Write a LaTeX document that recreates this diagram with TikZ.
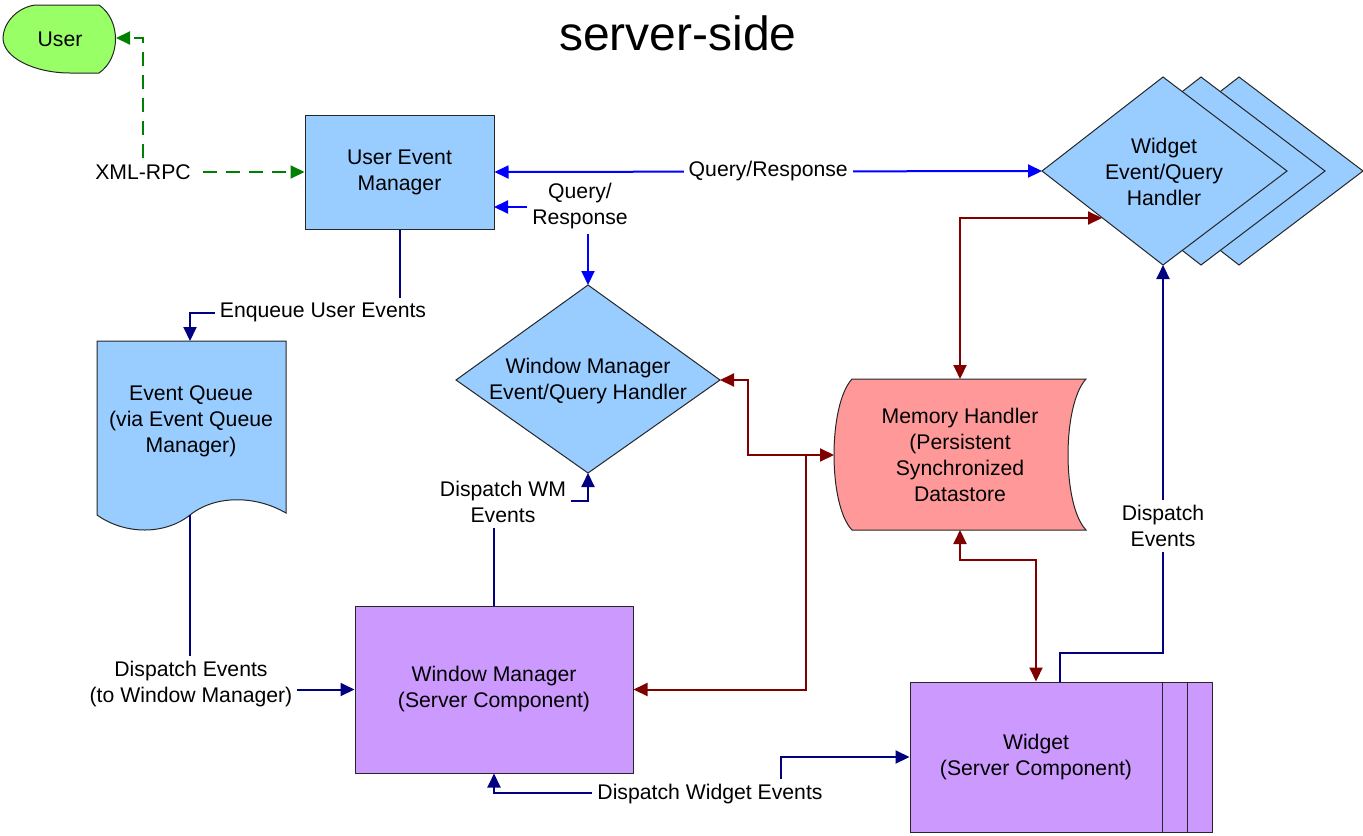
\documentclass[tikz,border=0pt]{standalone}
\usepackage{fontspec}
\setmainfont{Liberation Sans}
\usetikzlibrary{arrows.meta}

\definecolor{boxblue}{RGB}{153,204,255}
\definecolor{boxpurple}{RGB}{204,153,255}
\definecolor{boxpink}{RGB}{255,153,153}
\definecolor{boxgreen}{RGB}{153,255,102}
\definecolor{lgreen}{RGB}{0,128,0}
\definecolor{lblue}{RGB}{0,0,255}
\definecolor{lnavy}{RGB}{0,0,128}
\definecolor{lred}{RGB}{128,0,0}

\begin{document}
\begin{tikzpicture}[x=0.5pt,y=-0.5pt,
  txt/.style={font=\fontsize{10.6}{13}\selectfont, align=center, inner sep=1pt},
  tag/.style={txt, fill=white, inner sep=2.5pt},
  shp/.style={draw=black!85, line width=0.5pt},
  boxnode/.style={shp, txt, rectangle},
  conn/.style={line width=1pt, >={Triangle[length=7pt,width=6.5pt]}},
  greenline/.style={conn, draw=lgreen, dash pattern=on 7pt off 4.5pt},
  blueline/.style={conn, draw=lblue},
  navyline/.style={conn, draw=lnavy},
  redline/.style={conn, draw=lred},
]
\useasboundingbox (0,0) rectangle (1363,835);

% title
\node[font=\fontsize{24}{28}\selectfont] (title) at (678,33) {server-side};

% ---------- shapes ----------
% user (display shape)
\path[shp, fill=boxgreen] (99,5) -- (35,5) .. controls (15,8) and (3,25) .. (3,38)
  .. controls (3,58) and (35,73) .. (70,73) -- (99,73)
  .. controls (121,58) and (121,20) .. (99,5) -- cycle;
\node[txt] (user) at (60,39) {User};
\coordinate (user-e) at (116,38);

% user event manager
\node[boxnode, fill=boxblue, minimum width=94.5pt, minimum height=57pt] (uem) at (399.5,172) {User Event\\Manager};
\coordinate (uem-qr) at (494,207);

% event queue (document shape)
\path[shp, fill=boxblue] (97,341) -- (286,341) -- (286,513)
  .. controls (255,495) and (215,495) .. (190,515)
  .. controls (165,535) and (125,535) .. (97,515) -- cycle;
\node[txt] (eq) at (191,421) {Event Queue\\(via Event Queue\\Manager)};
\coordinate (eq-n) at (190,341);
\coordinate (eq-s) at (190,515);

% window manager event/query handler
\path[shp, fill=boxblue] (456,380) -- (588,285) -- (720,380) -- (588,473) -- cycle;
\node[txt] (wmd) at (588,381) {Window Manager\\Event/Query Handler};
\coordinate (wmd-n) at (588,285);
\coordinate (wmd-s) at (588,473);
\coordinate (wmd-e) at (720,380);
\coordinate (wmd-in) at (588,501);

% widget event/query handler (stacked)
\foreach \dx in {76,38,0}{
  \path[shp, fill=boxblue] (1042+\dx,171) -- (1163+\dx,77) -- (1287+\dx,171) -- (1163+\dx,265) -- cycle;
}
\node[txt] (wqd) at (1164,172) {Widget\\Event/Query\\Handler};
\coordinate (wqd-w) at (1042,171);
\coordinate (wqd-s) at (1163,265);
\coordinate (wqd-ll) at (1102,218);

% memory handler (stored data shape)
\path[shp, fill=boxpink] (852,379) -- (1086,379)
  .. controls (1062,405) and (1062,505) .. (1086,530) -- (852,530)
  .. controls (828,505) and (828,405) .. (852,379) -- cycle;
\node[txt] (mh) at (960,455) {Memory Handler\\(Persistent\\Synchronized\\Datastore};
\coordinate (mh-n) at (960,379);
\coordinate (mh-s) at (960,530);
\coordinate (mh-w) at (834,455);

% window manager
\node[boxnode, fill=boxpurple, minimum width=139pt, minimum height=83.5pt] (wm) at (494,689.5) {Window Manager\\(Server Component)};

% widget (stacked)
\path[shp, fill=boxpurple] (960,682) rectangle (1212,832);
\path[shp, fill=boxpurple] (935,682) rectangle (1187,832);
\node[boxnode, fill=boxpurple, minimum width=126pt, minimum height=75pt] (wg) at (1036,757) {Widget\\(Server Component)};
\coordinate (wg-t) at (1060,682);

% ---------- connectors ----------
% XML-RPC
\node[txt, inner xsep=6pt, inner ysep=3pt] (xml) at (143,172) {XML-RPC};
\draw[greenline, ->] (xml.north) |- (user-e);
\draw[greenline, ->] (xml.east) -- (uem.west);

% query/response links
\draw[blueline, <->] (uem.east) -- (wqd-w) node[tag, pos=0.5] (qr1) {Query/Response};
\draw[blueline, <->] (uem-qr) -| (wmd-n);
\node[tag] (qr2) at (580,206) {Query/\\Response};

% event queue links
\draw[navyline, ->] (uem.south) -- ++(0,83) -| (eq-n);
\node[tag] (enq) at (323,312) {Enqueue User Events};
\draw[navyline, ->] (eq-s) |- (wm.west);
\node[tag] (dev) at (191,684) {Dispatch Events\\(to Window Manager)};

% window manager dispatch
\draw[navyline, ->] (wm.north) |- (wmd-in) -- (wmd-s);
\node[tag] (dwm) at (503,502) {Dispatch WM\\Events};

% memory handler links
\draw[redline, <->] (wmd-e) -- (748,380) -- (748,455) -- (mh-w);
\coordinate (junc) at (806,455);
\draw[redline, ->] (junc) |- (wm.east);
\draw[redline, <->] (mh-n) -- (960,218) -- (wqd-ll);
\draw[redline, <->] (mh-s) -- (960,560) -| (wg.north);

% widget dispatch
\draw[navyline, ->] (wg-t) -- ++(0,-29) -| (wqd-s);
\node[tag] (dwe) at (1163,526) {Dispatch\\Events};
\draw[navyline, <->] (wm.south) |- (781,793) -- (781,757) -- (wg.west);
\node[tag] (dwg) at (710,794) {Dispatch Widget Events};
\end{tikzpicture}
\end{document}
